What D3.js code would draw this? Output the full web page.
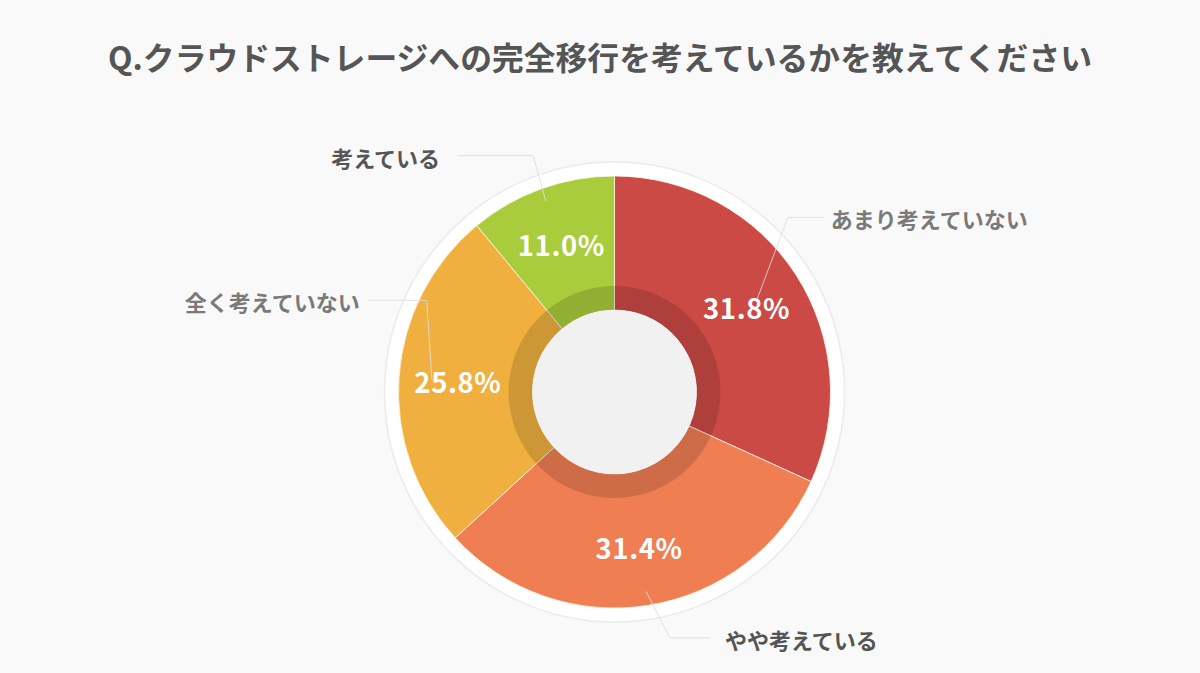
<!DOCTYPE html>
<html lang="ja">
<head>
<meta charset="utf-8">
<script src="https://cdn.jsdelivr.net/npm/d3@7"></script>
<style>
  html, body { margin: 0; padding: 0; background: #f9f9f9; }
  svg { display: block; font-family: "Noto Sans CJK JP", "Noto Sans", sans-serif; }
</style>
</head>
<body>
<div id="chart"></div>
<script>
// answer categories, clockwise from 12 o'clock
const categories = ["あまり考えていない", "やや考えている", "全く考えていない", "考えている"];
const shares = [31.8, 31.4, 25.8, 11.0];
const percentLabels = ["31.8%", "31.4%", "25.8%", "11.0%"];
const title = "Q.クラウドストレージへの完全移行を考えているかを教えてください";

const width = 1200, height = 673;
const cx = 614.5, cy = 392;
const outerR = 216, innerR = 82, shadeR = 106, rimR = 230;

const color = d3.scaleOrdinal()
    .domain(categories)
    .range(["#cc4a45", "#ef7e53", "#f0b03f", "#a9cc3c"]);

// callout placement (angle in degrees from top, radii in px)
const callouts = [
    { tickR: 169, elbowA: 44.8, elbowR: 246, run: 36, gap: 7, tone: "#7a7a7a" },
    { tickR: 202, elbowA: 167.3, elbowR: 252, run: 40, gap: 15, tone: "#555555" },
    { tickR: 183, elbowA: 296, elbowR: 209, run: 59, gap: 8, tone: "#7a7a7a" },
    { tickR: 203, elbowA: 341, elbowR: 250, run: 76, gap: 17, tone: "#555555" }
];

const svg = d3.select("#chart")
    .append("svg")
    .attr("width", width)
    .attr("height", height);

svg.append("text")
    .attr("x", width / 2)
    .attr("y", 56)
    .attr("text-anchor", "middle")
    .attr("dominant-baseline", "central")
    .attr("font-size", 31.8)
    .attr("font-weight", 700)
    .attr("fill", "#555555")
    .text(title);

const g = svg.append("g")
    .attr("transform", `translate(${cx}, ${cy})`);

// white rim behind the pie
g.append("circle")
    .attr("r", rimR)
    .attr("fill", "#ffffff")
    .attr("stroke", "#ebebeb")
    .attr("stroke-width", 1.5);

const pie = d3.pie()
    .sort(null)
    .value(d => d.value);

const slices = pie(categories.map((c, i) => ({ name: c, value: shares[i], pct: percentLabels[i], i })));

const arc = d3.arc()
    .innerRadius(innerR)
    .outerRadius(outerR);

g.selectAll("path.slice")
    .data(slices)
    .join("path")
    .attr("class", "slice")
    .attr("d", arc)
    .attr("fill", d => color(d.data.name))
    .attr("stroke", "#fff6e6")
    .attr("stroke-width", 1)
    .attr("stroke-opacity", 0.8);

// darker band round the hole
g.append("path")
    .attr("d", d3.arc().innerRadius(innerR).outerRadius(shadeR).startAngle(0).endAngle(2 * Math.PI)())
    .attr("fill", "#000")
    .attr("fill-opacity", 0.14);

g.append("circle")
    .attr("r", innerR)
    .attr("fill", "#f1f1f1");

// percent labels inside the slices
const labelArc = d3.arc().innerRadius(157).outerRadius(157);
g.selectAll("text.pct")
    .data(slices)
    .join("text")
    .attr("class", "pct")
    .attr("transform", d => `translate(${labelArc.centroid(d)})`)
    .attr("text-anchor", "middle")
    .attr("dominant-baseline", "central")
    .attr("font-size", 27.5)
    .attr("font-weight", 700)
    .attr("letter-spacing", 0.6)
    .attr("fill", "#ffffff")
    .text(d => d.data.pct);

// callout ticks and category names
const polar = (deg, r) => {
    const a = deg * Math.PI / 180;
    return [r * Math.sin(a), -r * Math.cos(a)];
};

slices.forEach((d, i) => {
    const c = callouts[i];
    const mid = (d.startAngle + d.endAngle) / 2 * 180 / Math.PI;
    const p0 = polar(mid, c.tickR);
    const p1 = polar(c.elbowA, c.elbowR);
    const side = c.elbowA < 180 ? 1 : -1;
    const p2 = [p1[0] + side * c.run, p1[1]];

    g.append("path")
        .attr("d", d3.line()([p0, p1, p2]))
        .attr("fill", "none")
        .attr("stroke", "#dddddd")
        .attr("stroke-opacity", 0.85)
        .attr("stroke-width", 1);

    g.append("text")
        .attr("x", p2[0] + side * c.gap)
        .attr("y", p2[1] + 1)
        .attr("text-anchor", side > 0 ? "start" : "end")
        .attr("dominant-baseline", "central")
        .attr("font-size", 22)
        .attr("font-weight", 700)
        .attr("fill", c.tone)
        .text(d.data.name);
});
</script>
</body>
</html>
